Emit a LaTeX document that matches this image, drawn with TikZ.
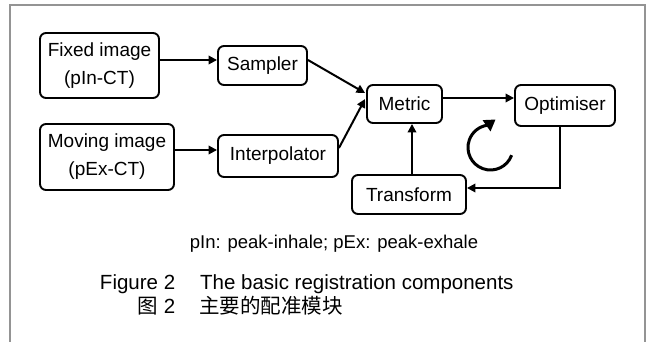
\documentclass[tikz,border=0pt]{standalone}
\usepackage{fontspec}
\setmainfont{Liberation Sans}
\newfontfamily\cjkfont{Noto Sans CJK SC}
\usetikzlibrary{arrows.meta}

\begin{document}
\begin{tikzpicture}[x=1pt,y=-1pt,
  blk/.style={draw, line width=1.9pt, rounded corners=6pt, inner sep=0pt,
    align=center, font=\fontsize{19}{28}\selectfont},
  arr/.style={line width=2pt, -{Triangle[length=8.5pt,width=8.5pt]}},
  frameline/.style={draw=black!42, line width=2.2pt},
  loop/.style={line width=3pt, -{Triangle[length=11pt,width=13pt]}}]
\useasboundingbox (0,0) rectangle (649,342);

% outer frame, open at the bottom
\draw[frameline] (10,342) -- (10,5) -- (645,5) -- (645,342);

% blocks
\node[blk, minimum width=119pt, minimum height=65pt] (fixed)  at (99.5,65.5) {Fixed image\\(pIn-CT)};
\node[blk, minimum width=134pt, minimum height=66pt] (moving) at (107,157)   {Moving image\\(pEx-CT)};
\node[blk, minimum width=89pt,  minimum height=39pt] (sampler) at (262.5,65.5) {Sampler};
\node[blk, minimum width=120pt, minimum height=42pt] (interp) at (278,156)   {Interpolator};
\node[blk, minimum width=75pt,  minimum height=38pt] (metric) at (404.5,104)  {Metric};
\node[blk, minimum width=100pt, minimum height=41pt] (optim)  at (565,105.5)  {Optimiser};
\node[blk, minimum width=114pt, minimum height=39pt] (transf) at (409,194.5)  {Transform};

% connectors
\draw[arr] ([yshift=5.5pt]fixed.east) -- ([yshift=5.5pt]fixed.east -| sampler.west);
\draw[arr] ([yshift=7pt]moving.east) -- ([yshift=7pt]moving.east -| interp.west);
\draw[arr] ([yshift=5.5pt]sampler.east) -- ([yshift=11pt,xshift=-1pt]metric.west);
\draw[arr] ([yshift=8pt]interp.east) -- ([yshift=5pt,xshift=-1pt]metric.west);
\draw[arr] ([yshift=6pt]metric.east) -- ([yshift=6pt]metric.east -| optim.west);
\draw[arr] ([xshift=3pt]transf.north) -- ([xshift=3pt]transf.north |- metric.south);
\coordinate (bend) at ([xshift=-5pt]optim.south |- transf.east);
\draw[arr] ([xshift=-5pt]optim.south) -- ([yshift=6.5pt]bend) -- ([yshift=6.5pt]transf.east);

% iteration symbol
\coordinate (loopc) at (490.5,147.5);
\draw[loop] ([shift={(-20:22.5pt)}]loopc) arc[start angle=-20, end angle=-262, radius=22.5pt] -- ++(35:10pt);

% notes and caption
\node[anchor=base, font=\fontsize{18.5}{20}\selectfont] (note) at (334,249)
  {pIn: peak-inhale; pEx: peak-exhale};
\node[anchor=base west, inner sep=0pt, font=\fontsize{20.5}{22}\selectfont] (capen) at (100,290)
  {\makebox[75pt][r]{Figure 2}\hspace{25pt}The basic registration components};
\node[anchor=base west, inner sep=0pt, font=\fontsize{20.5}{22}\selectfont] (capzh) at (100,314)
  {\makebox[75pt][r]{{\cjkfont 图} 2}\hspace{24pt}{\cjkfont 主要的配准模块}};
\end{tikzpicture}
\end{document}
